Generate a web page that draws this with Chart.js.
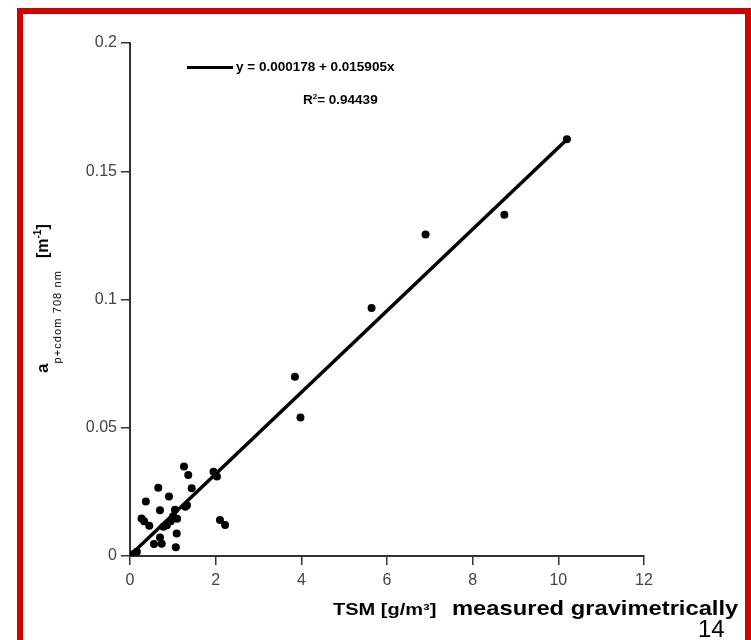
<!DOCTYPE html>
<html>
<head>
<meta charset="utf-8">
<script src="https://cdn.jsdelivr.net/npm/chart.js@4/dist/chart.umd.min.js"></script>
<style>
  html, body { margin: 0; padding: 0; background: #fff; }
  #wrap { position: relative; width: 751px; height: 640px; overflow: hidden; background: #fff; }
  #frame { position: absolute; left: 17px; top: 8px; width: 734px; height: 700px; box-sizing: border-box; border: 6px solid #d40000; }
  canvas { position: absolute; left: 0; top: 0; }
  .t { position: absolute; white-space: nowrap; font-family: "Liberation Sans", Arial, sans-serif; color: #000; }
  .b { font-weight: bold; }
</style>
</head>
<body>
<div id="wrap">
  <div id="frame"></div>
  <canvas id="c" width="751" height="640"></canvas>

  <div class="t b" style="left:187px;top:66px;width:46px;height:3px;background:#000;"></div>
  <div class="t b" style="left:236px;top:60px;font-size:13.5px;line-height:13px;">y = 0.000178 + 0.015905x</div>
  <div class="t b" style="left:303px;top:93px;font-size:13.5px;line-height:13px;">R<sup style="font-size:8px;vertical-align:5px;line-height:0;">2</sup>= 0.94439</div>

  <div class="t" style="left:33px;top:373px;transform-origin:0 0;transform:rotate(-90deg);line-height:20px;">
    <span class="b" style="font-size:17px;">a</span><span style="font-size:11px;letter-spacing:1.1px;vertical-align:-13px;">p+cdom 708 nm</span><span class="b" style="font-size:16px;margin-left:12px;">[m<sup style="font-size:10px;vertical-align:7px;line-height:0;">-1</sup>]</span>
  </div>

  <div class="t b" style="left:333px;top:601.5px;font-size:16px;line-height:16px;transform-origin:0 0;transform:scaleX(1.25);">TSM [g/m³]</div>
  <div class="t b" style="left:452px;top:597px;font-size:21px;line-height:21px;transform-origin:0 0;transform:scaleX(1.13);">measured gravimetrically</div>
  <div class="t" style="left:698px;top:617px;font-size:24px;line-height:24px;">14</div>
</div>
<script>
// ---- data ----
const tsm = [0.08, 0.16, 0.27, 0.33, 0.45, 0.37, 0.56, 0.66, 0.70, 0.70, 0.74, 0.78, 0.86, 0.91, 0.95, 1.01, 1.05, 1.07, 1.09, 1.10, 1.26, 1.29, 1.33, 1.36, 1.44, 1.95, 2.03, 2.10, 2.22, 3.85, 3.98, 5.64, 6.90, 8.74, 10.20];
const absorption = [0.0008, 0.0017, 0.0146, 0.0135, 0.0118, 0.0212, 0.0047, 0.0266, 0.0178, 0.0072, 0.0048, 0.0114, 0.0120, 0.0232, 0.0135, 0.0155, 0.0180, 0.0034, 0.0088, 0.0145, 0.0349, 0.0192, 0.0198, 0.0316, 0.0264, 0.0328, 0.0310, 0.0140, 0.0121, 0.0699, 0.0540, 0.0967, 0.1253, 0.1330, 0.1625];
const fitIntercept = 0.000178;
const fitSlope = 0.015905;
const fitRangeX = [0.08, 10.2];
const xTickValues = [0, 2, 4, 6, 8, 10, 12];
const xTickLabels = ['0', '2', '4', '6', '8', '10', '12'];
const yTickValues = [0, 0.05, 0.1, 0.15, 0.2];
const yTickLabels = ['0', '0.05', '0.1', '0.15', '0.2'];

const points = tsm.map((x, i) => ({ x: x, y: absorption[i] }));
const fitLine = fitRangeX.map(x => ({ x: x, y: fitIntercept + fitSlope * x }));

function labelFor(vals, labs, v) {
  for (let i = 0; i < vals.length; i++) if (Math.abs(vals[i] - v) < 1e-9) return labs[i];
  return '';
}

const tickFont = { family: '"Liberation Sans Narrow", "Liberation Sans", Arial, sans-serif', size: 16 };

new Chart(document.getElementById('c'), {
  type: 'scatter',
  data: {
    datasets: [
      { data: points, pointRadius: 4, pointBackgroundColor: '#000', pointBorderWidth: 0, showLine: false },
      { type: 'line', data: fitLine, borderColor: '#000', borderWidth: 3.5, pointRadius: 0, fill: false, tension: 0 }
    ]
  },
  options: {
    responsive: false,
    animation: false,
    devicePixelRatio: 1,
    layout: { padding: { left: 0, right: 107, top: 43, bottom: 0 } },
    plugins: { legend: { display: false }, tooltip: { enabled: false } },
    scales: {
      x: {
        type: 'linear', min: 0, max: 12,
        afterBuildTicks: s => { s.ticks = xTickValues.map(v => ({ value: v })); },
        ticks: { color: '#444', font: tickFont, padding: 6, maxRotation: 0,
                 callback: v => labelFor(xTickValues, xTickLabels, v) },
        grid: { drawOnChartArea: false, drawTicks: true, tickLength: 9, color: '#333', lineWidth: 1.5 },
        border: { color: '#333', width: 2 },
        afterFit: s => { s.height = 84; }
      },
      y: {
        type: 'linear', min: 0, max: 0.2,
        afterBuildTicks: s => { s.ticks = yTickValues.map(v => ({ value: v })); },
        ticks: { color: '#444', font: tickFont, padding: 4,
                 callback: v => labelFor(yTickValues, yTickLabels, v) },
        grid: { drawOnChartArea: false, drawTicks: true, tickLength: 9, color: '#333', lineWidth: 1.5 },
        border: { color: '#333', width: 2 },
        afterFit: s => { s.width = 130; }
      }
    }
  }
});
</script>
</body>
</html>
